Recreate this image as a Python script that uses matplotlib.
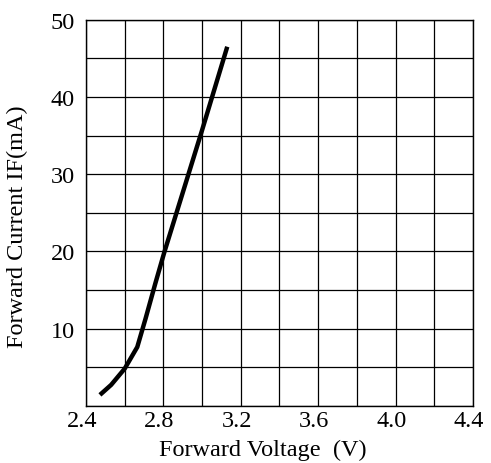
import matplotlib

matplotlib.use("Agg")
import matplotlib.pyplot as plt  # noqa: E402
import matplotlib.transforms as mtransforms  # noqa: E402
from matplotlib.ticker import MultipleLocator  # noqa: E402

# forward voltage (V) vs forward current (mA)
voltage = [2.472, 2.53, 2.60, 2.665, 2.708, 2.759, 2.805, 3.00, 3.13]
current = [1.4, 2.7, 4.8, 7.6, 11.3, 15.9, 19.9, 35.7, 46.5]

x_ticks = [2.4, 2.8, 3.2, 3.6, 4.0, 4.4]
y_ticks = [10, 20, 30, 40, 50]

plt.rcParams["font.family"] = ["Liberation Serif", "DejaVu Serif"]

fig = plt.figure(figsize=(4.91, 4.64), dpi=100)
ax = fig.add_axes([86 / 491, 1 - 406.7 / 464, 387 / 491, 386 / 464])

ax.plot(voltage, current, color="black", lw=3.2, solid_capstyle="butt", zorder=3)

ax.set_xlim(2.4, 4.4)
ax.set_ylim(0, 50)
ax.xaxis.set_minor_locator(MultipleLocator(0.2))
ax.yaxis.set_minor_locator(MultipleLocator(5))
ax.set_xticks(x_ticks)
ax.set_xticklabels([f"{v:.1f}" for v in x_ticks])
ax.set_yticks(y_ticks)
ax.grid(True, which="both", color="black", lw=0.9)
ax.tick_params(which="both", length=0, labelsize=17.5)
ax.tick_params(axis="x", pad=3)
ax.tick_params(axis="y", pad=8)
for s in ax.spines.values():
    s.set_linewidth(1.0)
    s.set_color("black")

# x tick labels sit a little left of their gridlines in the original
shift = mtransforms.ScaledTranslation(-4 / 100, 0, fig.dpi_scale_trans)
for lab in ax.get_xticklabels():
    lab.set_transform(lab.get_transform() + shift)

ax.set_xlabel("Forward Voltage  (V)", fontsize=17.5)
ax.xaxis.set_label_coords(0.457, -0.112)
ax.set_ylabel("Forward Current IF(mA)", fontsize=17.5)
ax.yaxis.set_label_coords(-0.176, 0.467)
ax.xaxis.label.set_va("center")
ax.yaxis.label.set_va("center")

fig.savefig("out.png", dpi=100)
plt.close(fig)
